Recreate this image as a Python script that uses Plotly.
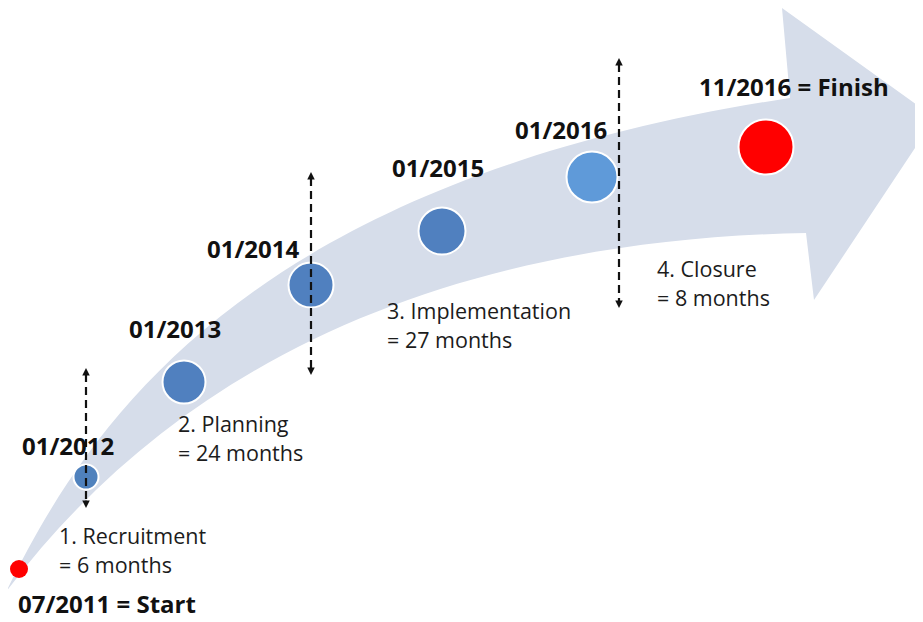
import plotly.graph_objects as go

# ---- data ----
milestones = ["07/2011", "01/2012", "01/2013", "01/2014", "01/2015", "01/2016", "11/2016"]
phases = ["1. Recruitment", "2. Planning", "3. Implementation", "4. Closure"]
durations = [6, 24, 27, 8]

# ---- layout (window pixel space, y down) ----
dot_x = [19, 86, 184, 311, 442, 592, 766]
dot_y = [569, 477, 382, 285, 231, 177, 147]
dot_size = [18, 25, 43, 45, 47, 51, 55]
dot_color = ["#ff0000", "#4f81bd", "#5080bf", "#5080bf", "#5080bf", "#5f9ad9", "#ff0000"]
dot_line = [0, 2, 2, 2, 2, 2, 2]

date_lab_x = [None, 68, 175, 253, 438, 561, None]
date_lab_y = [None, 447, 330, 250, 169, 131, None]

phase_x = [59, 178, 387, 657]
phase_y = [537, 425, 312, 270]

div_x = [86, 311, 619]
div_top = [368, 172, 58]
div_bot = [508, 375, 308]

W, H = 923, 622
OFF = 8  # page body margin
FONT = "Open Sans"
DY = -2  # text box centre vs cap centre

arrow_path = (
    "M 6,592 C 90,420 250,180 790,98 "
    "L 782,8 L 935,118 L 814,300 L 806,233 "
    "C 450,240 180,360 6,592 Z"
)

fig = go.Figure()

shapes = [dict(type="path", path=arrow_path, fillcolor="#d6ddea",
               line=dict(width=0), layer="below", xref="x", yref="y")]
for x, t, b in zip(div_x, div_top, div_bot):
    shapes.append(dict(type="line", x0=x, x1=x, y0=t + 6, y1=b - 6,
                       line=dict(color="#111111", width=2.2, dash="8px,5px"),
                       layer="above", xref="x", yref="y"))

fig.add_trace(go.Scatter(
    x=dot_x, y=dot_y, mode="markers",
    marker=dict(size=dot_size, color=dot_color, opacity=1,
                line=dict(color="white", width=dot_line)),
    hoverinfo="skip", showlegend=False,
))

bold = dict(family=FONT, size=24, color="#111111")
norm = dict(family=FONT, size=21.5, color="#1c1c1c")

annotations = []
for i, m in enumerate(milestones):
    if date_lab_x[i] is None:
        continue
    annotations.append(dict(x=date_lab_x[i], y=date_lab_y[i] + DY, text="<b>%s</b>" % m,
                            showarrow=False, xanchor="center", yanchor="middle", font=bold))
annotations.append(dict(x=16, y=H, text="<b>%s = Start</b>" % milestones[0],
                        showarrow=False, xanchor="left", yanchor="bottom", font=bold))
annotations.append(dict(x=697, y=88 + DY, text="<b>%s = Finish</b>" % milestones[-1],
                        showarrow=False, xanchor="left", yanchor="middle", font=bold))
for p, d, x, y in zip(phases, durations, phase_x, phase_y):
    annotations.append(dict(x=x - 2, y=y + DY, text=p, showarrow=False, xanchor="left",
                            yanchor="middle", font=norm))
    annotations.append(dict(x=x - 2, y=y + 29 + DY, text="= %d months" % d, showarrow=False,
                            xanchor="left", yanchor="middle", font=norm))
for x, t, b in zip(div_x, div_top, div_bot):
    annotations.append(dict(x=x, y=t, ax=0, ay=9, text="", showarrow=True, arrowhead=2,
                            arrowsize=1, arrowwidth=1.5, arrowcolor="#111111"))
    annotations.append(dict(x=x, y=b, ax=0, ay=-9, text="", showarrow=True, arrowhead=2,
                            arrowsize=1, arrowwidth=1.5, arrowcolor="#111111"))

fig.update_layout(
    width=W - OFF, height=H - OFF, margin=dict(l=0, r=0, t=0, b=0),
    paper_bgcolor="white", plot_bgcolor="white",
    xaxis=dict(range=[OFF, W], visible=False, fixedrange=True),
    yaxis=dict(range=[H, OFF], visible=False, fixedrange=True),
    shapes=shapes, annotations=annotations,
)

fig.write_html("out.html")
